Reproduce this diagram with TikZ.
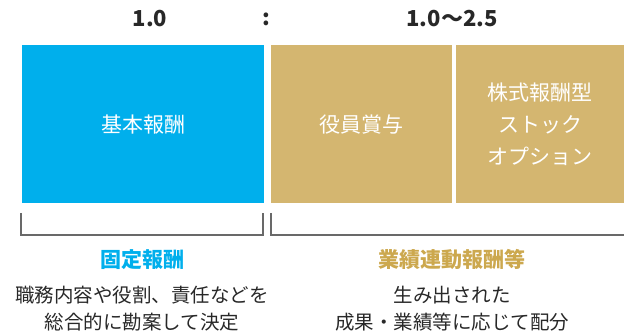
\documentclass[tikz,border=0pt]{standalone}
\usepackage{fontspec}
\setmainfont{Noto Sans CJK JP}
\usepackage{xcolor}
\definecolor{fixblue}{RGB}{0,175,236}
\definecolor{perfgold}{RGB}{212,182,112}
\definecolor{perftext}{RGB}{204,168,78}
\definecolor{bracketgray}{RGB}{105,105,105}
\definecolor{desctext}{RGB}{40,40,40}

\begin{document}
\begin{tikzpicture}[x=1pt,y=-1pt,
box/.style={anchor=north west,inner sep=0pt,minimum height=158pt,text=white,
  align=center,font=\fontsize{21}{32}\selectfont},
ratio/.style={font=\bfseries\fontsize{22}{26}\selectfont,text=desctext},
head/.style={font=\bfseries\fontsize{21}{24}\selectfont},
desc/.style={align=center,text=desctext,font=\fontsize{19.5}{27}\selectfont},
brace/.style={draw=bracketgray,line width=1.4pt}]
\useasboundingbox (0,0) rectangle (624,336);
% ratio line
\node[ratio] (fixratio) at (150,19) {1.0};
\node[ratio] (colon) at (266,19) {:};
\node[ratio] (perfratio) at (452,19) {1.0〜2.5};
% boxes
\node[box,fill=fixblue,minimum width=242pt] (base) at (22,45) {基本報酬};
\node[box,fill=perfgold,minimum width=181pt] (bonus) at (271,45) {役員賞与};
\node[box,fill=perfgold,minimum width=168pt] (stock) at (456,45) {株式報酬型\\ストック\\オプション};
% brackets
\coordinate (fixL) at (21,213);
\coordinate (fixB) at (263,235);
\coordinate (fixR) at (263,213);
\coordinate (perfL) at (271,213);
\coordinate (perfR) at (624,235);
\draw[brace] (fixL) |- (fixB) -- (fixR);
\draw[brace] (perfL) |- (perfR);
% labels
\node[head,text=fixblue] (fixhead) at (142,260) {固定報酬};
\node[desc,anchor=north] (fixdesc) at (142,283) {職務内容や役割、責任などを\\総合的に勘案して決定};
\node[head,text=perftext] (perfhead) at (452,260) {業績連動報酬等};
\node[desc,anchor=north] (perfdesc) at (452,283) {生み出された\\成果・業績等に応じて配分};
\end{tikzpicture}
\end{document}
